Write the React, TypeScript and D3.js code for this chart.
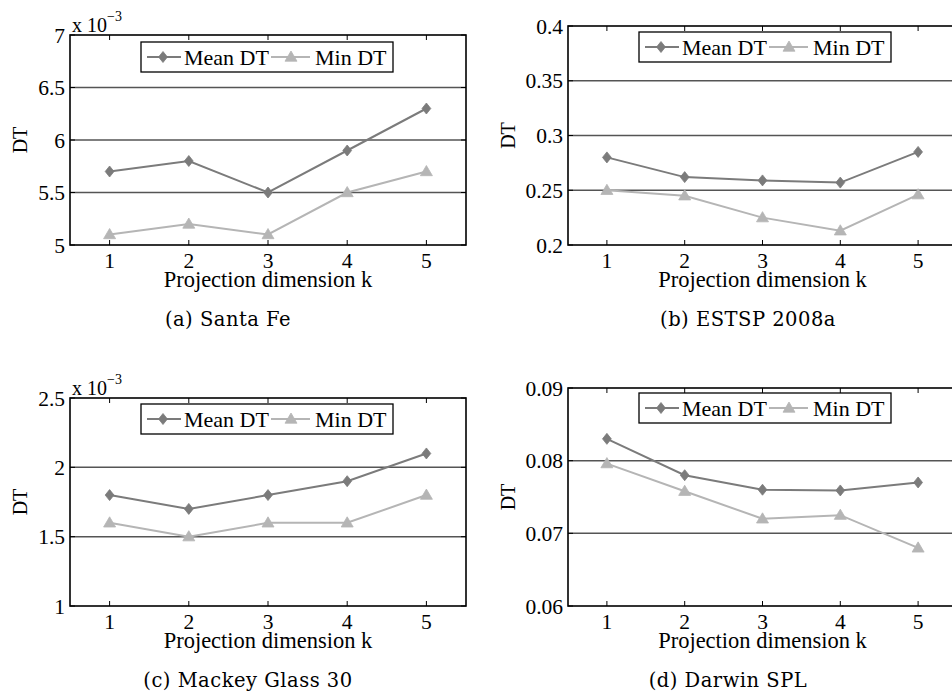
import React from "react";
import * as d3 from "d3";

const ks = [1, 2, 3, 4, 5];
const xTickLabels = ["1", "2", "3", "4", "5"];

const santaFeMean = [5.7, 5.8, 5.5, 5.9, 6.3];
const santaFeMin = [5.1, 5.2, 5.1, 5.5, 5.7];
const santaFeTicks = [5, 5.5, 6, 6.5, 7];
const santaFeTickLabels = ["5", "5.5", "6", "6.5", "7"];

const estspMean = [0.28, 0.262, 0.259, 0.257, 0.285];
const estspMin = [0.25, 0.245, 0.225, 0.213, 0.246];
const estspTicks = [0.2, 0.25, 0.3, 0.35, 0.4];
const estspTickLabels = ["0.2", "0.25", "0.3", "0.35", "0.4"];

const mackeyMean = [1.8, 1.7, 1.8, 1.9, 2.1];
const mackeyMin = [1.6, 1.5, 1.6, 1.6, 1.8];
const mackeyTicks = [1, 1.5, 2, 2.5];
const mackeyTickLabels = ["1", "1.5", "2", "2.5"];

const darwinMean = [0.083, 0.078, 0.076, 0.0759, 0.077];
const darwinMin = [0.0796, 0.0758, 0.072, 0.0725, 0.068];
const darwinTicks = [0.06, 0.07, 0.08, 0.09];
const darwinTickLabels = ["0.06", "0.07", "0.08", "0.09"];

const seriesNames = ["Mean DT", "Min DT"];
const captions = ["(a) Santa Fe", "(b) ESTSP 2008a", "(c) Mackey Glass 30", "(d) Darwin SPL"];

const MEAN_COLOR = "#7b7b7b";
const MIN_COLOR = "#b5b5b5";
const GRID_COLOR = "#555";
const FONT = "Liberation Serif, Times New Roman, Tinos, serif";
const CAP_FONT = "DejaVu Serif, serif";

type PanelProps = {
  left: number; top: number; right: number; bottom: number;
  domain: [number, number];
  ticks: number[]; tickLabels: string[];
  mean: number[]; min: number[];
  exponent: boolean;
  caption: string;
  captionX: number;
  dtOffset: number;
  legendDy: number;
};

function Diamond({ x, y, color }: { x: number; y: number; color: string }) {
  const r = 5.5;
  return <path d={`M${x},${y - r}L${x + r * 0.8},${y}L${x},${y + r}L${x - r * 0.8},${y}Z`} fill={color} stroke={color} strokeWidth={0.8} />;
}
function Tri({ x, y, color }: { x: number; y: number; color: string }) {
  const r = 6;
  return <path d={`M${x},${y - r}L${x + r},${y + r * 0.7}L${x - r},${y + r * 0.7}Z`} fill={color} stroke={color} strokeWidth={0.8} />;
}

const txt = (size: number, family = FONT): React.CSSProperties => ({ fontFamily: family, fontSize: size });

function Panel(p: PanelProps) {
  const x = d3.scaleLinear().domain([0.5, 5.5]).range([p.left, p.right]);
  const y = d3.scaleLinear().domain(p.domain).range([p.bottom, p.top]);
  const line = d3.line<number>().x((_, i) => x(ks[i])).y((v) => y(v));
  const lx = p.left + 71;
  const ly = p.top + p.legendDy;
  const midY = ly + 15;
  const interior = p.ticks.filter((t) => t > p.domain[0] && t < p.domain[1]);
  return (
    <g>
      {interior.map((t) => (
        <line key={"g" + t} x1={p.left} x2={p.right} y1={y(t)} y2={y(t)} stroke={GRID_COLOR} strokeWidth={1.5} />
      ))}
      {ks.map((k) => (
        <g key={"xt" + k}>
          <line x1={x(k)} x2={x(k)} y1={p.bottom} y2={p.bottom - 5} stroke="#000" strokeWidth={1} />
          <line x1={x(k)} x2={x(k)} y1={p.top} y2={p.top + 5} stroke="#000" strokeWidth={1} />
        </g>
      ))}
      {p.ticks.map((t) => (
        <g key={"yt" + t}>
          <line x1={p.left} x2={p.left + 5} y1={y(t)} y2={y(t)} stroke="#000" strokeWidth={1} />
          <line x1={p.right} x2={p.right - 5} y1={y(t)} y2={y(t)} stroke="#000" strokeWidth={1} />
        </g>
      ))}
      <rect x={p.left} y={p.top} width={p.right - p.left} height={p.bottom - p.top} fill="none" stroke="#000" strokeWidth={1.6} />
      <path d={line(p.mean) || ""} fill="none" stroke={MEAN_COLOR} strokeWidth={2} />
      <path d={line(p.min) || ""} fill="none" stroke={MIN_COLOR} strokeWidth={2} />
      {p.mean.map((v, i) => <Diamond key={"m" + i} x={x(ks[i])} y={y(v)} color={MEAN_COLOR} />)}
      {p.min.map((v, i) => <Tri key={"n" + i} x={x(ks[i])} y={y(v)} color={MIN_COLOR} />)}
      {p.ticks.map((t, i) => (
        <text key={"yl" + t} x={p.left - 5} y={y(t)} dy="0.35em" textAnchor="end" style={txt(21.5)}>
          {p.tickLabels[i]}
        </text>
      ))}
      {ks.map((k, i) => (
        <text key={"xl" + k} x={x(k)} y={p.bottom + 23} textAnchor="middle" style={txt(21.5)}>
          {xTickLabels[i]}
        </text>
      ))}
      <text x={(p.left + p.right) / 2} y={p.bottom + 42} textAnchor="middle" style={txt(22.5)}>
        Projection dimension k
      </text>
      <text transform={`translate(${p.left - p.dtOffset},${(p.top + p.bottom) / 2}) rotate(-90)`} textAnchor="middle" dy="0.35em" style={txt(20)}>
        DT
      </text>
      {p.exponent && (
        <text x={p.left + 2} y={p.top - 3} style={txt(20)}>
          x 10<tspan dy={-11} style={txt(14)}>−3</tspan>
        </text>
      )}
      <rect x={lx} y={ly} width={252} height={30} fill="#fff" stroke="#000" strokeWidth={1.3} />
      <line x1={lx + 6} x2={lx + 40} y1={midY} y2={midY} stroke={MEAN_COLOR} strokeWidth={2} />
      <Diamond x={lx + 22} y={midY} color={MEAN_COLOR} />
      <text x={lx + 43} y={midY} dy="0.35em" style={txt(22)}>{seriesNames[0]}</text>
      <line x1={lx + 130} x2={lx + 169} y1={midY} y2={midY} stroke={MIN_COLOR} strokeWidth={2} />
      <Tri x={lx + 150} y={midY} color={MIN_COLOR} />
      <text x={lx + 174} y={midY} dy="0.35em" style={txt(22)}>{seriesNames[1]}</text>
      <text x={p.captionX} y={p.bottom + 81} textAnchor="middle" style={{ ...txt(19.5, CAP_FONT), letterSpacing: 0.5 }}>
        {p.caption}
      </text>
    </g>
  );
}

export default function App() {
  return (
    <svg width={952} height={698} style={{ position: "absolute", left: 0, top: 0, background: "#fff" }}>
      <rect x={0} y={0} width={952} height={698} fill="#fff" />
      <Panel left={70} top={35} right={466} bottom={245} domain={[5, 7]} ticks={santaFeTicks} tickLabels={santaFeTickLabels}
        mean={santaFeMean} min={santaFeMin} exponent={true} caption={captions[0]} captionX={228} dtOffset={50} legendDy={7} />
      <Panel left={568} top={26} right={957} bottom={245} domain={[0.2, 0.4]} ticks={estspTicks} tickLabels={estspTickLabels}
        mean={estspMean} min={estspMin} exponent={false} caption={captions[1]} captionX={748} dtOffset={60} legendDy={6} />
      <Panel left={70} top={398} right={466} bottom={606} domain={[1, 2.5]} ticks={mackeyTicks} tickLabels={mackeyTickLabels}
        mean={mackeyMean} min={mackeyMin} exponent={true} caption={captions[2]} captionX={248} dtOffset={50} legendDy={6} />
      <Panel left={568} top={388} right={957} bottom={606} domain={[0.06, 0.09]} ticks={darwinTicks} tickLabels={darwinTickLabels}
        mean={darwinMean} min={darwinMin} exponent={false} caption={captions[3]} captionX={728} dtOffset={60} legendDy={5} />
    </svg>
  );
}
